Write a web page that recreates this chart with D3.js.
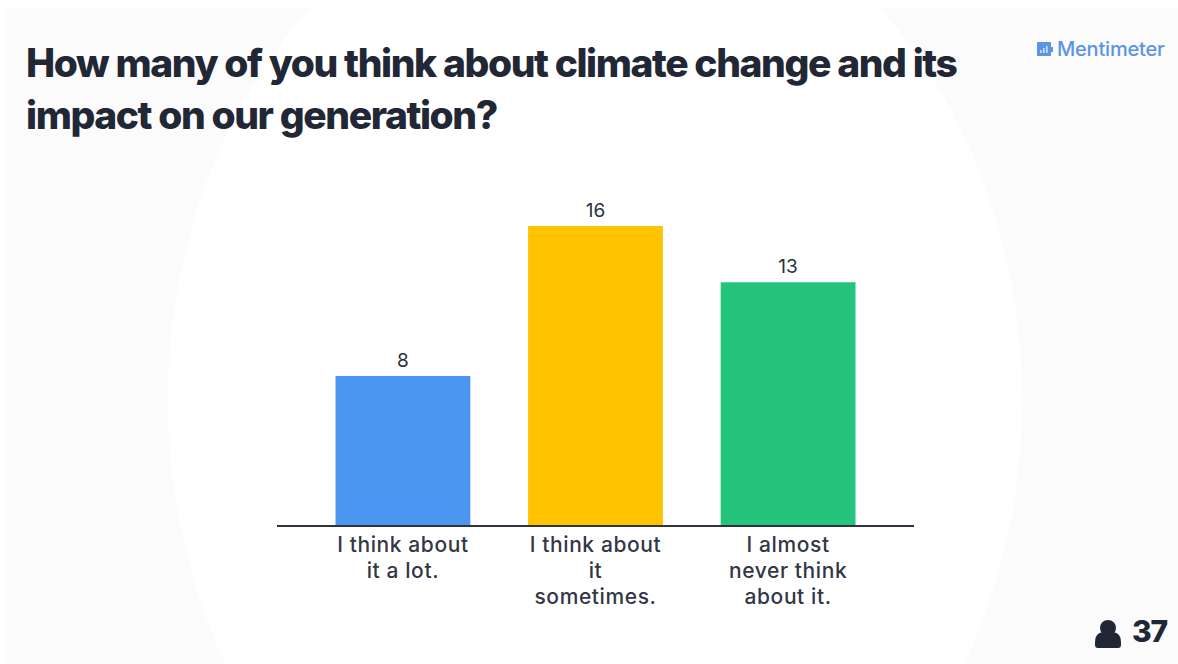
<!DOCTYPE html>
<html><head><meta charset="utf-8">
<script src="https://cdn.jsdelivr.net/npm/d3@7/dist/d3.min.js"></script>
<style>html,body{margin:0;padding:0;background:#fff;overflow:hidden}svg{display:block}</style>
</head><body><svg id="c" width="1178" height="664"></svg>
<script>
const categories = ["I think about it a lot.", "I think about it sometimes.", "I almost never think about it."];
const labelLines = [["I think about","it a lot."],["I think about","it","sometimes."],["I almost","never think","about it."]];
const values = [8, 16, 13];
const colors = ["#4b96f0", "#ffc300", "#24c47c"];
const titleLines = ["How many of you think about climate change and its","impact on our generation?"];
const brand = "Mentimeter";
const participants = "37";
const ink = "#222736";

const svg = d3.select("#c");
svg.append("rect").attr("x",6).attr("y",8).attr("width",1172).attr("height",656).attr("fill","#fbfbfc");
svg.append("ellipse").attr("cx",595).attr("cy",400).attr("rx",427).attr("ry",526).attr("fill","#fff");

const x = d3.scaleBand().domain(categories).range([335.5,855.5]).paddingInner(0.3).paddingOuter(0);
const y = d3.scaleLinear().domain([0,16]).range([526,226]);

svg.selectAll(".bar").data(values).join("rect").attr("class","bar")
  .attr("x",(d,i)=>x(categories[i])).attr("y",d=>y(d))
  .attr("width",x.bandwidth()).attr("height",d=>y(0)-y(d)).attr("fill",(d,i)=>colors[i]);

svg.selectAll(".val").data(values).join("text").attr("class","val")
  .attr("x",(d,i)=>x(categories[i])+x.bandwidth()/2).attr("y",d=>y(d)-9)
  .attr("text-anchor","middle").attr("font-family","Inter, sans-serif").attr("font-size",19)
  .attr("fill","#2b2f3e").text(d=>d);

const ax = svg.append("g").attr("transform","translate(0,526)").call(d3.axisBottom(x).tickSize(0).tickFormat(""));
ax.select(".domain").remove();
svg.append("line").attr("x1",277).attr("x2",914).attr("y1",526).attr("y2",526).attr("stroke","#2f3340").attr("stroke-width",2);

const lab = svg.selectAll(".lab").data(categories).join("text").attr("class","lab")
  .attr("text-anchor","middle").attr("font-family","Inter, sans-serif").attr("font-size",21).attr("font-weight",500).attr("letter-spacing",0.6).attr("fill","#333746");
lab.each(function(c,i){
  d3.select(this).selectAll("tspan").data(labelLines[i]).join("tspan")
    .attr("x",x(c)+x.bandwidth()/2).attr("y",(d,j)=>552+j*26).text(d=>d);
});

svg.selectAll(".title").data(titleLines).join("text").attr("class","title")
  .attr("x",26).attr("y",(d,i)=>77+i*52).attr("font-family","Inter, sans-serif")
  .attr("font-weight",800).attr("font-size",39).attr("letter-spacing",-1.4).attr("fill",ink).text(d=>d);

// brand
const b = svg.append("g").attr("transform","translate(1037,42)");
b.append("rect").attr("width",14).attr("height",14).attr("rx",1).attr("fill","#5c94e4");
b.append("rect").attr("x",14).attr("y",5).attr("width",2).attr("height",5).attr("fill","#5c94e4");
[[3,7,3],[6,5,5],[9,3,7]].forEach(s=>b.append("rect").attr("x",s[0]).attr("y",s[1]+1).attr("width",1.6).attr("height",s[2]).attr("fill","#cfe0f8"));
svg.append("text").attr("x",1057).attr("y",56).attr("font-family","Inter, sans-serif").attr("font-weight",500)
  .attr("font-size",20).attr("letter-spacing",-0.2).attr("fill","#5c94e4").text(brand);

// participants
const p = svg.append("g").attr("fill",ink);
p.append("circle").attr("cx",1108).attr("cy",628).attr("r",8);
p.append("path").attr("d","M1095 648 v-6 q0,-9 8,-10 q5,3 10,0 q8,1 8,10 v3 q0,3 -3,3 h-20 q-3,0 -3,-3 z");
svg.append("text").attr("x",1132).attr("y",642).attr("font-family","Inter, sans-serif").attr("font-weight",800)
  .attr("font-size",30).attr("letter-spacing",-1.2).attr("fill",ink).text(participants);
</script></body></html>
